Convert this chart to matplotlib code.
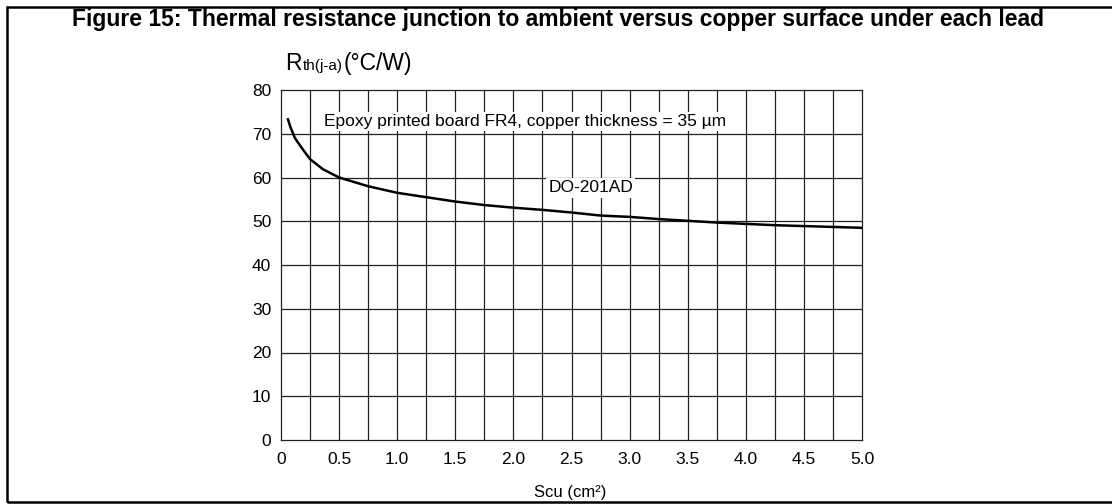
import matplotlib.pyplot as plt
from matplotlib.patches import Rectangle
import numpy as np

plt.rcParams['font.family'] = ['Liberation Sans', 'DejaVu Sans']

# copper surface (cm2) vs Rth(j-a) (degC/W)
scu = [0.06, 0.08, 0.12, 0.18, 0.25, 0.36, 0.5, 0.75, 1.0, 1.25, 1.5, 1.75,
       2.0, 2.25, 2.5, 2.75, 3.0, 3.25, 3.5, 3.75, 4.0, 4.25, 4.5, 4.75, 5.0]
rth = [73.3, 71.6, 69.0, 66.7, 64.2, 61.9, 60.0, 58.0, 56.5, 55.5, 54.5, 53.7,
       53.1, 52.6, 52.0, 51.3, 51.0, 50.5, 50.1, 49.7, 49.4, 49.1, 48.9, 48.7, 48.5]

xticks = [0, 0.5, 1.0, 1.5, 2.0, 2.5, 3.0, 3.5, 4.0, 4.5, 5.0]
xtick_labels = ["0", "0.5", "1.0", "1.5", "2.0", "2.5", "3.0", "3.5", "4.0", "4.5", "5.0"]
yticks = [0, 10, 20, 30, 40, 50, 60, 70, 80]

W, H = 1112, 504
fig = plt.figure(figsize=(W / 100, H / 100), dpi=100)

# outer frame (right edge runs off the picture)
fig.patches.append(Rectangle((7 / W, 2 / H), 1.01, 1 - 9 / H,
                             transform=fig.transFigure, fill=False,
                             edgecolor='black', linewidth=1.8))

fig.text(558 / W, 1 - 26 / H,
         "Figure 15: Thermal resistance junction to ambient versus copper surface under each lead",
         ha='center', va='baseline', fontsize=16.5, fontweight='bold')

ax = fig.add_axes([281 / W, 1 - 440 / H, 581 / W, 350 / H])
ax.set_xlim(0, 5.0)
ax.set_ylim(0, 80)

# grid: every 0.25 cm2, every 10 degC/W
for gx in np.arange(0.25, 5.0, 0.25):
    ax.axvline(gx, color='#222222', linewidth=0.9, zorder=1)
for gy in yticks[1:-1]:
    ax.axhline(gy, color='#222222', linewidth=0.9, zorder=1)

ax.plot(scu, rth, color='black', linewidth=1.8, zorder=3)

ax.set_xticks(xticks)
ax.set_xticklabels(xtick_labels)
ax.set_yticks(yticks)
ax.tick_params(length=0, labelsize=12.5)
ax.tick_params(axis='x', pad=9)
ax.tick_params(axis='y', pad=7)
for s in ax.spines.values():
    s.set_linewidth(0.9)
    s.set_color('#222222')

bb = dict(facecolor='white', edgecolor='none', pad=1.5)
ax.text(0.37, 72.8, "Epoxy printed board FR4, copper thickness = 35 µm",
        fontsize=12.5, va='center', ha='left', bbox=bb, zorder=4)
ax.text(2.30, 57.6, "DO-201AD", fontsize=12.5, va='center', ha='left',
        bbox=bb, zorder=4)

# y axis title above the axis, pieces placed one after the other
fig.canvas.draw()
r = fig.canvas.get_renderer()
x0 = 285
t1 = fig.text(x0 / W, 1 - 70 / H, "R", fontsize=16.5, va='baseline', ha='left')
x0 = t1.get_window_extent(r).x1 + 1
t2 = fig.text(x0 / W, 1 - 70 / H, "th(j-a)", fontsize=11, va='baseline', ha='left')
x0 = t2.get_window_extent(r).x1 + 1
fig.text(x0 / W, 1 - 70 / H, "(°C/W)", fontsize=16.5, va='baseline', ha='left')

fig.text(570 / W, 1 - 492 / H, "Scu (cm²)", fontsize=12, ha='center', va='center')

fig.savefig("out.png", dpi=100)
